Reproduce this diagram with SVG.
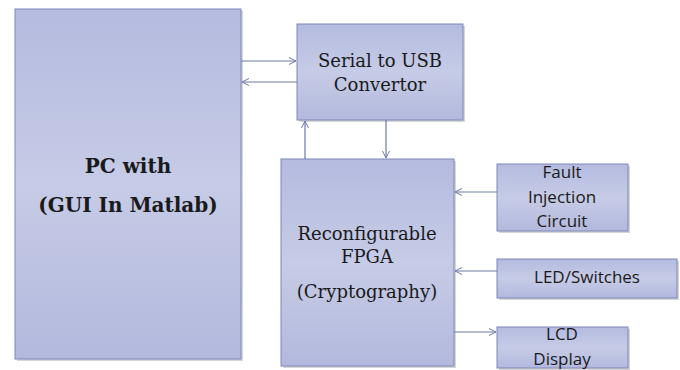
<svg xmlns="http://www.w3.org/2000/svg" width="680" height="370" viewBox="0 0 680 370">
<defs>
<linearGradient id="g" x1="0" y1="0" x2="0" y2="1">
<stop offset="0" stop-color="#b4bbdf"/>
<stop offset="0.5" stop-color="#c6cbe6"/>
<stop offset="1" stop-color="#b3b9dd"/>
</linearGradient>
<marker id="ah" markerWidth="10" markerHeight="10" refX="8" refY="5" orient="auto" markerUnits="userSpaceOnUse">
<path d="M1,1.5 L8,5 L1,8.5" fill="none" stroke="#6f7aa6" stroke-width="1"/>
</marker>
</defs>
<style>
.sh{fill:#8a8a8a;opacity:0.35}
.box{fill:url(#g);stroke:#7d87b8;stroke-width:1}
.sf{fill:#1a1a1a;text-anchor:middle;font-family:'DejaVu Serif','Liberation Serif',serif;font-size:18px}
.b{font-weight:bold;font-size:20px}
.ss{fill:#1a1a1a;text-anchor:middle;font-family:'Open Sans','DejaVu Sans',sans-serif;font-size:17px}
.c{fill:none;stroke:#6f7aa6;stroke-width:1.2;marker-end:url(#ah)}
</style>
<rect width="680" height="370" fill="#fff"/>
<g id="pc">
<rect class="sh" x="17" y="11" width="226" height="350"/>
<rect class="box" x="15" y="9" width="226" height="350"/>
<text class="sf b" x="128" y="173">PC with</text>
<text class="sf b" x="128" y="212">(GUI In Matlab)</text>
</g>
<g id="serial">
<rect class="sh" x="299" y="26" width="166" height="96"/>
<rect class="box" x="297" y="24" width="166" height="96"/>
<text class="sf" x="380" y="67">Serial to USB</text>
<text class="sf" x="380" y="91">Convertor</text>
</g>
<g id="fpga">
<rect class="sh" x="283" y="161" width="173" height="207"/>
<rect class="box" x="281" y="159" width="173" height="207"/>
<text class="sf" x="367" y="240">Reconfigurable</text>
<text class="sf" x="367" y="263">FPGA</text>
<text class="sf" x="367" y="298">(Cryptography)</text>
</g>
<g id="fault">
<rect class="sh" x="499" y="166" width="131" height="67"/>
<rect class="box" x="497" y="164" width="131" height="67"/>
<text class="ss" x="562" y="178">Fault</text>
<text class="ss" x="562" y="203">Injection</text>
<text class="ss" x="562" y="227">Circuit</text>
</g>
<g id="led">
<rect class="sh" x="499" y="261" width="180" height="39"/>
<rect class="box" x="497" y="259" width="180" height="39"/>
<text class="ss" x="587" y="283">LED/Switches</text>
</g>
<g id="lcd">
<rect class="sh" x="499" y="329" width="131" height="41"/>
<rect class="box" x="497" y="327" width="131" height="41"/>
<text class="ss" x="562" y="340">LCD</text>
<text class="ss" x="562" y="365">Display</text>
</g>
<g id="connectors">
<line class="c" x1="241" y1="61" x2="296" y2="61"/>
<line class="c" x1="297" y1="82" x2="242" y2="82"/>
<line class="c" x1="305" y1="159" x2="305" y2="121"/>
<line class="c" x1="386" y1="120" x2="386" y2="158"/>
<line class="c" x1="497" y1="192" x2="455" y2="192"/>
<line class="c" x1="497" y1="271" x2="455" y2="271"/>
<line class="c" x1="454" y1="332" x2="496" y2="332"/>
</g>
</svg>
